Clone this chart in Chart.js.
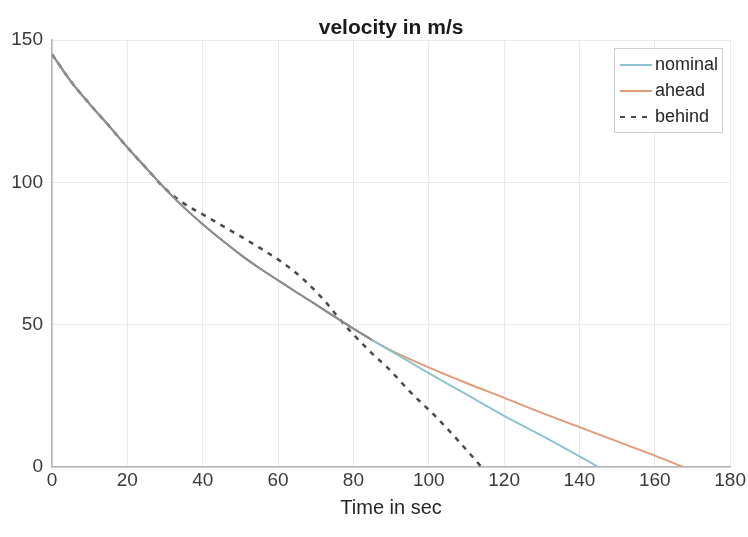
<!DOCTYPE html>
<html>
<head>
<meta charset="utf-8">
<script src="https://cdn.jsdelivr.net/npm/chart.js@4"></script>
<style>
  html, body { margin: 0; padding: 0; background: #fff; }
  #wrap { width: 748px; height: 537px; }
</style>
</head>
<body>
<div id="wrap"><canvas id="velocityChart" width="748" height="537"></canvas></div>
<script>
// time (s) and velocity (m/s)
const timeNominal = [0, 5, 10, 15, 20, 25, 30, 35, 40, 45, 50, 55, 60, 65, 70, 75, 80, 85, 90, 100, 110, 120, 130, 140, 145];
const velNominal  = [145, 135.5, 127.5, 120, 112.3, 105, 97.8, 91.2, 85.3, 79.8, 74.6, 69.9, 65.6, 61.3, 57.1, 52.8, 48.6, 44.6, 40.7, 33, 25.5, 18, 11, 3.7, 0];

const timeAhead = [0, 5, 10, 15, 20, 25, 30, 35, 40, 45, 50, 55, 60, 65, 70, 75, 80, 85, 90, 100, 110, 120, 130, 140, 150, 160, 167.5];
const velAhead  = [145, 135.5, 127.5, 120, 112.3, 105, 97.8, 91.2, 85.3, 79.8, 74.6, 69.9, 65.6, 61.3, 57.1, 52.8, 48.6, 44.6, 41, 35, 29.5, 24.3, 19, 14, 9, 4, 0];

const timeBehind = [0, 5, 10, 15, 20, 25, 30, 35, 41, 48, 54, 61, 67, 73, 76, 79, 85, 89, 95, 102, 108, 114];
const velBehind  = [145, 135.5, 127.5, 120, 112.3, 105, 97.8, 92.6, 88, 82.6, 77.9, 72, 65.6, 57.4, 52.5, 48, 39.8, 35, 26.5, 17.5, 9, 0];

const xTicks = [0, 20, 40, 60, 80, 100, 120, 140, 160, 180];
const yTicks = [0, 50, 100, 150];

const toPoints = (xs, ys) => xs.map((x, i) => ({ x: x, y: ys[i] }));

// the nominal and ahead runs sit on top of each other up to ~85 s and look grey there
const splitAt = 85;
const sharedGrey = "#8d8d8d";
const segColor = (own) => (ctx) => (ctx.p1.parsed.x <= splitAt ? sharedGrey : own);

const FONT = "'Liberation Sans', Arial, sans-serif";

const plotTitle = {
  id: "plotTitle",
  afterDraw(chart) {
    const c = chart.ctx;
    const a = chart.chartArea;
    c.save();
    c.font = "bold 21px " + FONT;
    c.fillStyle = "#1a1a1a";
    c.textAlign = "center";
    c.textBaseline = "middle";
    c.fillText("velocity in m/s", (a.left + a.right) / 2, 28);
    c.restore();
  },
};

const insideLegend = {
  id: "insideLegend",
  afterDraw(chart) {
    const c = chart.ctx;
    const box = { x: 614, y: 48, w: 108, h: 84 };
    c.save();
    c.fillStyle = "#fff";
    c.strokeStyle = "#cfcfcf";
    c.lineWidth = 1;
    c.fillRect(box.x, box.y, box.w, box.h);
    c.strokeRect(box.x + 0.5, box.y + 0.5, box.w, box.h);
    c.font = "18px " + FONT;
    c.textBaseline = "middle";
    chart.data.datasets.forEach((ds, i) => {
      const y = box.y + 17 + i * 26;
      c.strokeStyle = ds.borderColor;
      c.lineWidth = 2;
      c.setLineDash(ds.borderDash || []);
      c.beginPath();
      c.moveTo(box.x + 6, y);
      c.lineTo(box.x + 38, y);
      c.stroke();
      c.setLineDash([]);
      c.fillStyle = "#262626";
      c.fillText(ds.label, box.x + 41, y);
    });
    c.restore();
  },
};

const ctx = document.getElementById("velocityChart").getContext("2d");
new Chart(ctx, {
  type: "line",
  data: {
    datasets: [
      {
        label: "nominal",
        data: toPoints(timeNominal, velNominal),
        borderColor: "#8ec3d2",
        borderWidth: 2,
        pointRadius: 0,
        cubicInterpolationMode: "monotone",
        segment: { borderColor: segColor("#8ec3d2") },
      },
      {
        label: "ahead",
        data: toPoints(timeAhead, velAhead),
        borderColor: "#e19b79",
        borderWidth: 2,
        pointRadius: 0,
        cubicInterpolationMode: "monotone",
        segment: { borderColor: segColor("#e19b79") },
      },
      {
        label: "behind",
        data: toPoints(timeBehind, velBehind),
        borderColor: "#4a4a4a",
        borderWidth: 2.5,
        borderDash: [5, 6],
        pointRadius: 0,
        cubicInterpolationMode: "monotone",
      },
    ],
  },
  options: {
    responsive: false,
    animation: false,
    layout: { padding: { top: 40, right: 15, bottom: 0, left: 0 } },
    plugins: {
      legend: { display: false },
      tooltip: { enabled: false },
      title: { display: false },
    },
    scales: {
      x: {
        type: "linear",
        min: 0,
        max: 180,
        afterBuildTicks: (axis) => { axis.ticks = xTicks.map((v) => ({ value: v })); },
        afterFit: (axis) => { axis.height = 70; },
        ticks: {
          color: "#3a3a3a",
          padding: 2,
          font: { family: FONT, size: 19 },
        },
        grid: { color: "#e9e9e9", drawTicks: false },
        border: { color: "#b5b5b5", width: 1.5 },
        title: {
          display: true,
          text: "Time in sec",
          color: "#262626",
          padding: { top: 4, bottom: 17 },
          font: { family: FONT, size: 20 },
        },
      },
      y: {
        type: "linear",
        min: 0,
        max: 150,
        afterBuildTicks: (axis) => { axis.ticks = yTicks.map((v) => ({ value: v })); },
        afterFit: (axis) => { axis.width = 52; },
        ticks: {
          color: "#3a3a3a",
          padding: 9,
          font: { family: FONT, size: 19 },
        },
        grid: { color: "#e9e9e9", drawTicks: false },
        border: { color: "#b5b5b5", width: 1.5 },
      },
    },
  },
  plugins: [plotTitle, insideLegend],
});
</script>
</body>
</html>
